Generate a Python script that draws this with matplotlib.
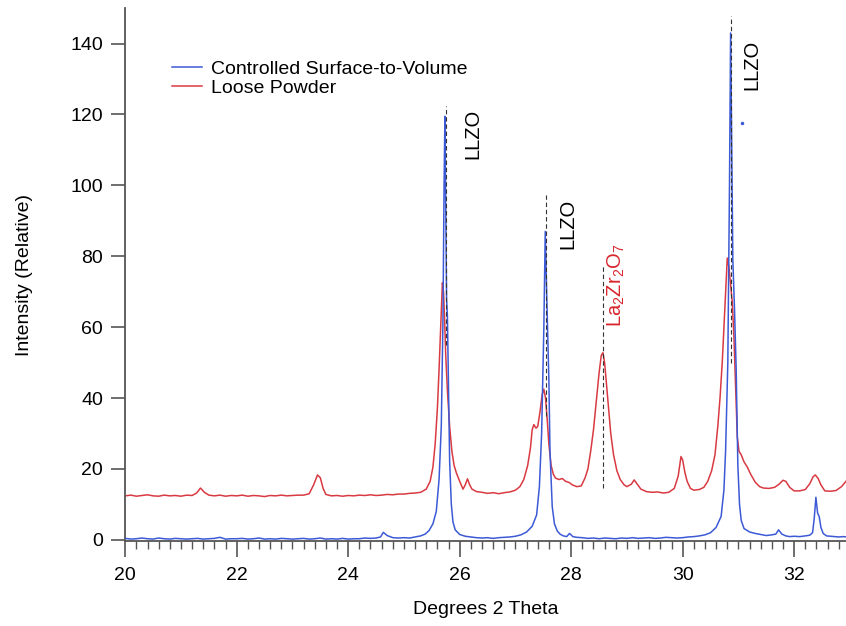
import matplotlib
matplotlib.use("Agg")
import matplotlib.pyplot as plt
from matplotlib.ticker import MultipleLocator

plt.rcParams["font.family"] = ["Liberation Sans", "DejaVu Sans"]
plt.rcParams["mathtext.default"] = "regular"

# Controlled Surface-to-Volume (blue)
blue_theta = [
    20.0, 20.1, 20.2, 20.3, 20.4, 20.5, 20.6, 20.7, 20.8, 20.9,
    21.0, 21.1, 21.2, 21.3, 21.4, 21.5, 21.6, 21.7, 21.8, 21.9,
    22.0, 22.1, 22.2, 22.3, 22.4, 22.5, 22.6, 22.7, 22.8, 22.9,
    23.0, 23.1, 23.2, 23.3, 23.4, 23.5, 23.6, 23.7, 23.8, 23.9,
    24.0, 24.1, 24.2, 24.3, 24.4, 24.5, 24.58, 24.63, 24.7, 24.8,
    24.9, 25.0, 25.1, 25.2, 25.3, 25.38, 25.45, 25.52, 25.58, 25.63,
    25.67, 25.70, 25.72, 25.735, 25.75, 25.765, 25.78, 25.80, 25.82, 25.85,
    25.88, 25.92, 26.0, 26.1, 26.2, 26.3, 26.4, 26.5, 26.6, 26.7,
    26.8, 26.9, 27.0, 27.1, 27.2, 27.3, 27.38, 27.43, 27.47, 27.51,
    27.535, 27.56, 27.60, 27.62, 27.66, 27.70, 27.75, 27.8, 27.86, 27.92,
    27.97, 28.03, 28.1, 28.2, 28.3, 28.4, 28.5, 28.6, 28.7, 28.8,
    28.9, 29.0, 29.1, 29.2, 29.3, 29.4, 29.5, 29.6, 29.7, 29.8,
    29.9, 30.0, 30.1, 30.2, 30.3, 30.4, 30.5, 30.6, 30.69, 30.74,
    30.77, 30.81, 30.84, 30.86, 30.88, 30.90, 30.93, 30.96, 30.99, 31.02,
    31.05, 31.1, 31.2, 31.3, 31.4, 31.5, 31.6, 31.67, 31.72, 31.78,
    31.85, 31.92, 32.0, 32.1, 32.2, 32.28, 32.33, 32.36, 32.39, 32.42,
    32.45, 32.48, 32.52, 32.58, 32.65, 32.72, 32.8, 32.88, 32.95,
]
blue_counts = [
    0.4, 0.2, 0.3, 0.5, 0.3, 0.2, 0.5, 0.3, 0.2, 0.4,
    0.3, 0.2, 0.3, 0.4, 0.2, 0.3, 0.4, 0.7, 0.2, 0.3,
    0.3, 0.4, 0.2, 0.3, 0.5, 0.2, 0.3, 0.2, 0.4, 0.3,
    0.2, 0.3, 0.4, 0.2, 0.3, 0.5, 0.2, 0.3, 0.2, 0.4,
    0.2, 0.3, 0.3, 0.5, 0.4, 0.5, 0.8, 2.1, 1.2, 0.6,
    0.5, 0.6, 0.5, 0.8, 1.1, 1.6, 2.6, 4.5, 8.0, 17.0,
    32.0, 62.0, 100.0, 119.5, 95.0, 68.0, 63.0, 42.0, 22.0, 10.0,
    5.0, 2.8, 1.5, 1.0, 0.8, 0.6, 0.5, 0.6, 0.4, 0.6,
    0.7, 0.8, 1.0, 1.4, 2.2, 3.8, 7.0, 15.0, 30.0, 60.0,
    87.0, 70.0, 45.0, 25.0, 9.4, 4.5, 2.5, 1.6, 1.1, 0.9,
    1.8, 0.9, 0.7, 0.6, 0.4, 0.5, 0.3, 0.5, 0.4, 0.3,
    0.5, 0.4, 0.6, 0.4, 0.5, 0.6, 0.4, 0.5, 0.7, 0.6,
    0.5, 0.6, 0.8, 0.9, 1.1, 1.4, 2.0, 3.5, 6.6, 14.0,
    25.0, 50.0, 100.0, 143.0, 110.0, 79.0, 65.0, 48.0, 21.0, 10.0,
    5.5, 3.2, 2.2, 1.8, 1.5, 1.2, 1.4, 1.6, 2.8, 1.6,
    1.1, 0.9, 1.0, 0.9, 1.1, 1.3, 2.0, 6.0, 12.0, 7.6,
    6.5, 3.5, 1.8, 1.1, 1.0, 0.9, 0.8, 0.9, 0.8,
]

# Loose Powder (red)
red_theta = [
    20.0, 20.1, 20.2, 20.3, 20.4, 20.5, 20.6, 20.7, 20.8, 20.9,
    21.0, 21.1, 21.2, 21.28, 21.35, 21.42, 21.5, 21.6, 21.7, 21.8,
    21.9, 22.0, 22.1, 22.2, 22.3, 22.4, 22.5, 22.6, 22.7, 22.8,
    22.9, 23.0, 23.1, 23.2, 23.3, 23.38, 23.45, 23.5, 23.55, 23.6,
    23.7, 23.8, 23.9, 24.0, 24.1, 24.2, 24.3, 24.4, 24.5, 24.6,
    24.7, 24.8, 24.9, 25.0, 25.1, 25.2, 25.3, 25.4, 25.47, 25.52,
    25.56, 25.60, 25.63, 25.66, 25.69, 25.71, 25.73, 25.75, 25.78, 25.82,
    25.86, 25.90, 25.94, 26.0, 26.06, 26.1, 26.14, 26.18, 26.22, 26.3,
    26.4, 26.5, 26.6, 26.7, 26.8, 26.9, 27.0, 27.08, 27.15, 27.22,
    27.27, 27.30, 27.33, 27.37, 27.40, 27.44, 27.48, 27.51, 27.54, 27.57,
    27.60, 27.64, 27.68, 27.72, 27.78, 27.84, 27.90, 27.96, 28.02, 28.1,
    28.18, 28.25, 28.30, 28.35, 28.40, 28.45, 28.50, 28.54, 28.57, 28.60,
    28.63, 28.67, 28.71, 28.76, 28.82, 28.88, 28.95, 29.0, 29.08, 29.13,
    29.18, 29.25, 29.35, 29.45, 29.55, 29.65, 29.75, 29.85, 29.92, 29.97,
    30.0, 30.04, 30.08, 30.14, 30.2, 30.3, 30.38, 30.45, 30.52, 30.58,
    30.63, 30.67, 30.71, 30.74, 30.77, 30.80, 30.83, 30.86, 30.89, 30.92,
    30.95, 30.98, 31.01, 31.05, 31.1, 31.16, 31.22, 31.3, 31.38, 31.45,
    31.55, 31.65, 31.73, 31.8, 31.85, 31.92, 32.0, 32.1, 32.2, 32.28,
    32.34, 32.38, 32.43, 32.48, 32.55, 32.65, 32.75, 32.85, 32.95,
]
red_counts = [
    12.4, 12.6, 12.3, 12.5, 12.7, 12.4, 12.3, 12.6, 12.4, 12.5,
    12.3, 12.6, 12.5, 13.2, 14.6, 13.4, 12.6, 12.4, 12.6, 12.3,
    12.5, 12.4, 12.6, 12.3, 12.5, 12.4, 12.2, 12.5, 12.4, 12.6,
    12.4, 12.5, 12.6, 12.6, 13.0, 15.5, 18.3, 17.5, 14.5, 12.8,
    12.4, 12.5, 12.3, 12.5, 12.4, 12.6, 12.5, 12.7, 12.5, 12.6,
    12.8, 12.7, 12.9, 12.9, 13.1, 13.2, 13.4, 14.3, 16.5, 20.5,
    27.0, 37.0, 48.0, 60.0, 72.5, 70.0, 62.0, 52.0, 42.0, 32.0,
    25.0, 21.0, 18.9, 16.5, 14.3, 15.5, 17.2, 15.5, 14.3, 13.6,
    13.4, 13.1, 13.3, 13.0, 13.3, 13.5, 14.0, 15.0, 17.0, 21.0,
    26.0, 31.0, 32.5, 31.5, 32.0, 36.0, 41.0, 42.5, 40.0, 34.0,
    27.0, 21.0, 18.5, 17.4, 17.0, 17.3, 16.5, 16.2, 15.5, 15.0,
    15.2, 17.5, 20.0, 25.0, 31.0, 39.0, 47.0, 52.0, 52.8, 50.0,
    44.5, 37.0, 30.0, 24.0, 19.5, 17.0, 15.5, 15.0, 15.7, 16.9,
    15.8, 14.3, 13.6, 13.4, 13.5, 13.2, 13.4, 14.5, 18.0, 23.5,
    22.5, 19.0, 16.5, 14.5, 14.0, 14.2, 14.8, 16.5, 19.5, 24.0,
    32.0, 40.0, 50.0, 60.0, 70.0, 79.5, 77.0, 72.0, 67.0, 57.0,
    43.0, 29.0, 25.0, 24.0, 22.0, 20.5, 18.5, 16.3, 15.0, 14.6,
    14.5, 14.8, 15.7, 16.8, 16.5, 14.8, 13.8, 13.8, 14.2, 15.8,
    17.8, 18.3, 17.3, 15.5, 13.8, 13.7, 13.9, 15.0, 16.9,
]

# isolated blue point above the third LLZO peak
stray_theta = [31.06]
stray_counts = [117.5]

# reference lines: position, lower end, upper end
ref_theta = [25.75, 27.54, 28.57, 30.87]
ref_low = [55, 35, 14.6, 50]
ref_high = [122.3, 97.2, 77.5, 147.9]

# phase labels
label_text = ["LLZO", "LLZO", r"La$_2$Zr$_2$O$_7$", "LLZO"]
label_theta = [26.24, 27.94, 28.81, 31.24]
label_y = [114.6, 89.0, 71.8, 134.0]
label_color = ["black", "black", "#d8262e", "black"]

blue = "#3c5ad6"
red = "#d93a42"
axis_grey = "#555555"

fig = plt.figure(figsize=(8.46, 6.26), dpi=100)
ax = fig.add_axes([0.148, 0.136, 0.852, 0.851])

ax.plot(blue_theta, blue_counts, color=blue, lw=1.1, label="Controlled Surface-to-Volume", zorder=3)
ax.plot(red_theta, red_counts, color=red, lw=1.1, label="Loose Powder", zorder=2)
ax.plot(stray_theta, stray_counts, ".", color=blue, ms=3, zorder=3)

for x, lo, hi in zip(ref_theta, ref_low, ref_high):
    ax.plot([x, x], [lo, hi], color="#333333", lw=0.8, ls=(0, (4, 2.5)), zorder=4)

for t, x, y, c in zip(label_text, label_theta, label_y, label_color):
    ax.text(x, y, t, rotation=90, ha="center", va="center", fontsize=14.5, color=c)

ax.set_xlim(20, 32.93)
ax.set_ylim(-0.3, 150)

ax.spines["top"].set_visible(False)
ax.spines["right"].set_visible(False)
for s in ("left", "bottom"):
    ax.spines[s].set_color(axis_grey)
    ax.spines[s].set_linewidth(1.3)

ax.xaxis.set_major_locator(MultipleLocator(2))
ax.xaxis.set_minor_locator(MultipleLocator(0.2))
ax.yaxis.set_major_locator(MultipleLocator(20))
ax.tick_params(axis="x", which="major", direction="out", length=11.5, width=1.2,
               color=axis_grey, labelsize=14, pad=7)
ax.tick_params(axis="x", which="minor", direction="out", length=5.8, width=1.0, color=axis_grey)
ax.tick_params(axis="y", which="major", direction="out", length=10, width=1.2,
               color=axis_grey, labelsize=14, pad=6)

ax.set_xlabel("Degrees 2 Theta", fontsize=14, labelpad=12.5)
ax.set_ylabel("Intensity (Relative)", fontsize=14, labelpad=27)

ax.legend(loc="upper left", bbox_to_anchor=(0.065, 0.9025), frameon=False, fontsize=14,
          borderpad=0, borderaxespad=0, labelspacing=0.1, handlelength=1.55,
          handletextpad=0.45)

fig.savefig("out.png", dpi=100)
